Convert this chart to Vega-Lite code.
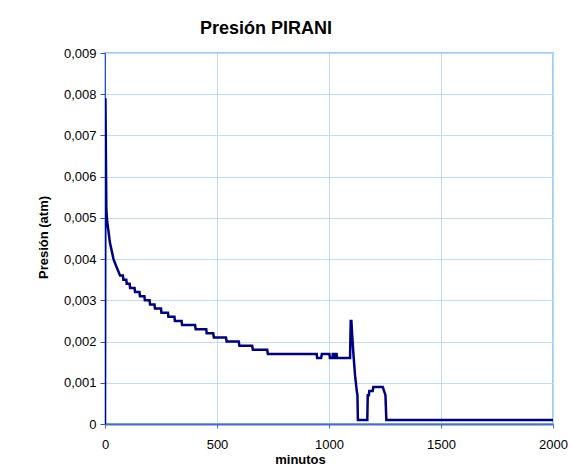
{
  "$schema": "https://vega.github.io/schema/vega-lite/v6.json",
  "width": 448,
  "height": 371,
  "autosize": {"type": "none"},
  "padding": {"left": 105, "top": 53, "right": 19, "bottom": 46},
  "background": "white",
  "title": {
    "text": "Presión PIRANI",
    "font": "Liberation Sans",
    "fontSize": 18,
    "fontWeight": "bold",
    "color": "black",
    "anchor": "middle",
    "frame": "group",
    "dx": -63,
    "baseline": "alphabetic",
    "offset": -5
  },
  "config": {
    "view": {"stroke": "#99ccff", "strokeWidth": 2},
    "font": "Liberation Sans"
  },
  "data": {
    "values": [
      {"min": 0, "p": 0},
      {"min": 2, "p": 0.0079},
      {"min": 6, "p": 0.0052},
      {"min": 10, "p": 0.0049},
      {"min": 15, "p": 0.0047},
      {"min": 22, "p": 0.0044},
      {"min": 30, "p": 0.0042},
      {"min": 38, "p": 0.004},
      {"min": 45, "p": 0.0039},
      {"min": 52, "p": 0.0038},
      {"min": 60, "p": 0.0037},
      {"min": 67, "p": 0.0036},
      {"min": 80, "p": 0.0036},
      {"min": 82, "p": 0.0035},
      {"min": 95, "p": 0.0035},
      {"min": 97, "p": 0.0034},
      {"min": 110, "p": 0.0034},
      {"min": 112, "p": 0.0033},
      {"min": 132, "p": 0.0033},
      {"min": 134, "p": 0.0032},
      {"min": 154, "p": 0.0032},
      {"min": 156, "p": 0.0031},
      {"min": 176, "p": 0.0031},
      {"min": 178, "p": 0.003},
      {"min": 199, "p": 0.003},
      {"min": 201, "p": 0.0029},
      {"min": 221, "p": 0.0029},
      {"min": 223, "p": 0.0028},
      {"min": 250, "p": 0.0028},
      {"min": 252, "p": 0.0027},
      {"min": 281, "p": 0.0027},
      {"min": 283, "p": 0.0026},
      {"min": 310, "p": 0.0026},
      {"min": 312, "p": 0.0025},
      {"min": 342, "p": 0.0025},
      {"min": 344, "p": 0.0024},
      {"min": 402, "p": 0.0024},
      {"min": 405, "p": 0.0023},
      {"min": 452, "p": 0.0023},
      {"min": 454, "p": 0.0022},
      {"min": 483, "p": 0.0022},
      {"min": 486, "p": 0.0021},
      {"min": 540, "p": 0.0021},
      {"min": 543, "p": 0.002},
      {"min": 597, "p": 0.002},
      {"min": 600, "p": 0.0019},
      {"min": 657, "p": 0.0019},
      {"min": 660, "p": 0.0018},
      {"min": 724, "p": 0.0018},
      {"min": 727, "p": 0.0017},
      {"min": 945, "p": 0.0017},
      {"min": 947, "p": 0.0016},
      {"min": 965, "p": 0.0016},
      {"min": 968, "p": 0.0017},
      {"min": 1002, "p": 0.0017},
      {"min": 1004, "p": 0.0016},
      {"min": 1015, "p": 0.0016},
      {"min": 1017, "p": 0.0017},
      {"min": 1022, "p": 0.0017},
      {"min": 1024, "p": 0.0016},
      {"min": 1028, "p": 0.0016},
      {"min": 1030, "p": 0.0017},
      {"min": 1034, "p": 0.0017},
      {"min": 1036, "p": 0.0016},
      {"min": 1094, "p": 0.0016},
      {"min": 1097, "p": 0.0025},
      {"min": 1100, "p": 0.0025},
      {"min": 1103, "p": 0.0022},
      {"min": 1109, "p": 0.0017},
      {"min": 1116, "p": 0.0012},
      {"min": 1124, "p": 0.0008},
      {"min": 1127, "p": 0.0007},
      {"min": 1129, "p": 0.0001},
      {"min": 1171, "p": 0.0001},
      {"min": 1173, "p": 0.0007},
      {"min": 1178, "p": 0.0007},
      {"min": 1180, "p": 0.0008},
      {"min": 1195, "p": 0.0008},
      {"min": 1198, "p": 0.0009},
      {"min": 1240, "p": 0.0009},
      {"min": 1246, "p": 0.0008},
      {"min": 1252, "p": 0.0007},
      {"min": 1256, "p": 0.0001},
      {"min": 2000, "p": 0.0001}
    ]
  },
  "mark": {"type": "line", "color": "#000080", "strokeWidth": 2.5, "strokeJoin": "miter", "clip": true},
  "encoding": {
    "x": {
      "field": "min",
      "type": "quantitative",
      "scale": {"domain": [0, 2000], "nice": false, "zero": false},
      "axis": {
        "title": "minutos",
        "values": [0, 500, 1000, 1500, 2000],
        "format": "d",
        "labelFont": "Liberation Sans",
        "labelFontSize": 13,
        "labelColor": "black",
        "labelPadding": 10,
        "labelFlush": false,
        "tickSize": 4,
        "tickColor": "#4a6cc8",
        "domainColor": "#4a6cc8",
        "domainWidth": 2,
        "gridColor": "#bcdcfa",
        "gridWidth": 1,
        "titleFont": "Liberation Sans",
        "titleFontSize": 13,
        "titleFontWeight": "bold",
        "titleColor": "black",
        "titleX": 195,
        "titleY": 39,
        "titleBaseline": "alphabetic",
        "titleAlign": "center"
      }
    },
    "y": {
      "field": "p",
      "type": "quantitative",
      "scale": {"domain": [0, 0.009], "nice": false},
      "axis": {
        "title": "Presión (atm)",
        "values": [0, 0.001, 0.002, 0.003, 0.004, 0.005, 0.006, 0.007, 0.008, 0.009],
        "labelExpr": "datum.value == 0 ? '0' : replace(format(datum.value, '.3f'), '.', ',')",
        "labelFont": "Liberation Sans",
        "labelFontSize": 13,
        "labelColor": "black",
        "labelPadding": 4,
        "tickSize": 5,
        "tickColor": "#3a4fa8",
        "domainColor": "#3a4fa8",
        "domainWidth": 1,
        "gridColor": "#bcdcfa",
        "gridWidth": 1,
        "titleFont": "Liberation Sans",
        "titleFontSize": 13,
        "titleFontWeight": "bold",
        "titleColor": "black",
        "titleAngle": 270,
        "titleX": -58,
        "titleY": 184,
        "titleAlign": "center",
        "titleBaseline": "alphabetic"
      }
    }
  }
}
